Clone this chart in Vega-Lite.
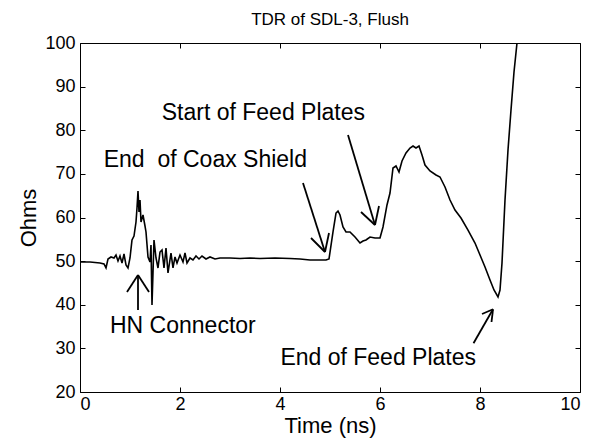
{
  "$schema": "https://vega.github.io/schema/vega-lite/v6.json",
  "width": 500,
  "height": 349,
  "autosize": {"type": "none"},
  "padding": {"left": 80, "top": 43, "right": 11, "bottom": 54},
  "background": "white",
  "title": {"text": "TDR of SDL-3, Flush", "fontSize": 17, "font": "Liberation Sans", "fontWeight": "normal", "color": "black", "offset": 5},
  "config": {
    "view": {"stroke": "black", "strokeWidth": 1},
    "axis": {"labelFont": "Liberation Sans", "titleFont": "Liberation Sans", "labelColor": "black", "titleColor": "black", "domain": false, "grid": false, "tickColor": "black", "tickWidth": 1, "titleFontWeight": "normal"}
  },
  "datasets": {
    "tdr": [
      {"t": 0, "ohm": 49.8}, {"t": 0.2, "ohm": 49.8}, {"t": 0.4, "ohm": 49.57}, {"t": 0.48, "ohm": 49.34},
      {"t": 0.52, "ohm": 48.43}, {"t": 0.56, "ohm": 50.49}, {"t": 0.62, "ohm": 50.95}, {"t": 0.68, "ohm": 50.72},
      {"t": 0.72, "ohm": 51.4}, {"t": 0.76, "ohm": 50.03}, {"t": 0.8, "ohm": 51.17}, {"t": 0.84, "ohm": 49.57},
      {"t": 0.88, "ohm": 51.63}, {"t": 0.92, "ohm": 49.11}, {"t": 0.96, "ohm": 48.43}, {"t": 1.0, "ohm": 50.72},
      {"t": 1.04, "ohm": 54.84}, {"t": 1.08, "ohm": 55.76}, {"t": 1.12, "ohm": 58.97}, {"t": 1.14, "ohm": 62.18},
      {"t": 1.16, "ohm": 66.07}, {"t": 1.18, "ohm": 61.26}, {"t": 1.2, "ohm": 64.01}, {"t": 1.22, "ohm": 58.97},
      {"t": 1.26, "ohm": 60.57}, {"t": 1.3, "ohm": 58.05}, {"t": 1.32, "ohm": 56.68}, {"t": 1.36, "ohm": 50.95},
      {"t": 1.4, "ohm": 49.8}, {"t": 1.42, "ohm": 53.7}, {"t": 1.44, "ohm": 39.94}, {"t": 1.48, "ohm": 54.84},
      {"t": 1.52, "ohm": 50.72}, {"t": 1.56, "ohm": 48.43}, {"t": 1.6, "ohm": 52.09}, {"t": 1.64, "ohm": 52.55},
      {"t": 1.68, "ohm": 48.43}, {"t": 1.72, "ohm": 53.01}, {"t": 1.76, "ohm": 47.28}, {"t": 1.82, "ohm": 51.86},
      {"t": 1.86, "ohm": 48.43}, {"t": 1.9, "ohm": 50.95}, {"t": 1.94, "ohm": 49.57}, {"t": 2.0, "ohm": 51.4},
      {"t": 2.06, "ohm": 49.8}, {"t": 2.1, "ohm": 51.86}, {"t": 2.14, "ohm": 49.57}, {"t": 2.2, "ohm": 50.72},
      {"t": 2.26, "ohm": 50.26}, {"t": 2.32, "ohm": 51.17}, {"t": 2.38, "ohm": 50.49}, {"t": 2.44, "ohm": 51.17},
      {"t": 2.52, "ohm": 50.49}, {"t": 2.6, "ohm": 50.95}, {"t": 2.7, "ohm": 50.49}, {"t": 2.8, "ohm": 50.72},
      {"t": 3.0, "ohm": 50.72}, {"t": 3.2, "ohm": 50.6}, {"t": 3.4, "ohm": 50.72}, {"t": 3.6, "ohm": 50.6},
      {"t": 3.9, "ohm": 50.72}, {"t": 4.2, "ohm": 50.6}, {"t": 4.4, "ohm": 50.49}, {"t": 4.6, "ohm": 50.26},
      {"t": 4.8, "ohm": 50.26}, {"t": 4.92, "ohm": 50.26}, {"t": 4.98, "ohm": 50.49}, {"t": 5.06, "ohm": 56.68},
      {"t": 5.12, "ohm": 61.03}, {"t": 5.16, "ohm": 61.49}, {"t": 5.2, "ohm": 60.57}, {"t": 5.26, "ohm": 57.82},
      {"t": 5.32, "ohm": 56.68}, {"t": 5.4, "ohm": 56.68}, {"t": 5.5, "ohm": 55.53}, {"t": 5.6, "ohm": 54.15},
      {"t": 5.66, "ohm": 54.61}, {"t": 5.72, "ohm": 54.84}, {"t": 5.8, "ohm": 55.53}, {"t": 5.9, "ohm": 55.3},
      {"t": 6.0, "ohm": 55.3}, {"t": 6.06, "ohm": 57.82}, {"t": 6.14, "ohm": 62.87}, {"t": 6.2, "ohm": 65.62},
      {"t": 6.26, "ohm": 71.35}, {"t": 6.32, "ohm": 71.81}, {"t": 6.38, "ohm": 70.43}, {"t": 6.44, "ohm": 72.95},
      {"t": 6.52, "ohm": 74.79}, {"t": 6.6, "ohm": 75.93}, {"t": 6.66, "ohm": 76.39}, {"t": 6.72, "ohm": 75.93},
      {"t": 6.78, "ohm": 76.39}, {"t": 6.84, "ohm": 74.33}, {"t": 6.9, "ohm": 72.03}, {"t": 7.0, "ohm": 70.66},
      {"t": 7.12, "ohm": 69.74}, {"t": 7.2, "ohm": 69.28}, {"t": 7.3, "ohm": 66.99}, {"t": 7.4, "ohm": 64.01},
      {"t": 7.5, "ohm": 61.72}, {"t": 7.62, "ohm": 59.89}, {"t": 7.76, "ohm": 57.13}, {"t": 7.9, "ohm": 54.15},
      {"t": 8.0, "ohm": 51.4}, {"t": 8.1, "ohm": 48.65}, {"t": 8.2, "ohm": 45.67}, {"t": 8.28, "ohm": 43.38},
      {"t": 8.36, "ohm": 41.78}, {"t": 8.4, "ohm": 43.38}, {"t": 8.44, "ohm": 49.57}, {"t": 8.5, "ohm": 64.01},
      {"t": 8.56, "ohm": 75.47}, {"t": 8.62, "ohm": 84.64}, {"t": 8.68, "ohm": 93.35}, {"t": 8.74, "ohm": 100},
      {"t": 8.78, "ohm": 106}
    ],
    "arrows": [
      {"x1": 4.46, "y1": 67.91, "x2": 4.9, "y2": 52.09},
      {"x1": 4.62, "y1": 55.3, "x2": 4.9, "y2": 52.09},
      {"x1": 4.98, "y1": 56.45, "x2": 4.9, "y2": 52.09},
      {"x1": 5.36, "y1": 78.91, "x2": 5.9, "y2": 58.28},
      {"x1": 5.62, "y1": 61.26, "x2": 5.9, "y2": 58.28},
      {"x1": 5.98, "y1": 62.64, "x2": 5.9, "y2": 58.28},
      {"x1": 1.16, "y1": 38.8, "x2": 1.16, "y2": 46.82},
      {"x1": 0.94, "y1": 42.92, "x2": 1.16, "y2": 46.82},
      {"x1": 1.38, "y1": 42.92, "x2": 1.16, "y2": 46.82},
      {"x1": 7.87, "y1": 31.16, "x2": 8.26, "y2": 38.96},
      {"x1": 8.04, "y1": 37.88, "x2": 8.26, "y2": 38.96},
      {"x1": 8.23, "y1": 36.05, "x2": 8.26, "y2": 38.96}
    ],
    "labels": [
      {"x": 4.54, "y": 71.58, "label": "End\u00a0 of Coax Shield", "side": "right"},
      {"x": 5.7, "y": 82.35, "label": "Start of Feed Plates", "side": "right"},
      {"x": 0.6, "y": 33.41, "label": "HN Connector", "side": "left"},
      {"x": 7.92, "y": 26.3, "label": "End of Feed Plates", "side": "right"}
    ]
  },
  "layer": [
    {
      "data": {"name": "tdr"},
      "mark": {"type": "line", "color": "black", "strokeWidth": 1.6, "clip": true},
      "encoding": {
        "x": {"field": "t", "type": "quantitative", "scale": {"domain": [0, 10], "nice": false},
              "axis": {"values": [0, 2, 4, 6, 8, 10], "title": "Time (ns)", "titleFontSize": 22, "labelFontSize": 18, "tickSize": -5, "labelPadding": 8, "titlePadding": 2}},
        "y": {"field": "ohm", "type": "quantitative", "scale": {"domain": [20, 100], "nice": false, "zero": false},
              "axis": {"values": [20, 30, 40, 50, 60, 70, 80, 90, 100], "title": "Ohms", "titleFontSize": 22, "labelFontSize": 18, "tickSize": -5, "labelPadding": 10, "titlePadding": 4}}
      }
    },
    {
      "data": {"name": "arrows"},
      "mark": {"type": "rule", "color": "black", "strokeWidth": 1.8},
      "encoding": {
        "x": {"field": "x1", "type": "quantitative", "axis": {"values": [0, 2, 4, 6, 8, 10], "labels": false, "title": null, "tickSize": -5}},
        "y": {"field": "y1", "type": "quantitative", "axis": {"values": [20, 30, 40, 50, 60, 70, 80, 90, 100], "labels": false, "title": null, "tickSize": -5}},
        "x2": {"field": "x2"},
        "y2": {"field": "y2"}
      }
    },
    {
      "data": {"name": "labels"},
      "transform": [{"filter": "datum.side == 'right'"}],
      "mark": {"type": "text", "align": "right", "baseline": "alphabetic", "font": "Liberation Sans", "fontSize": 23, "color": "black"},
      "encoding": {
        "x": {"field": "x", "type": "quantitative", "axis": null},
        "y": {"field": "y", "type": "quantitative", "axis": null},
        "text": {"field": "label"}
      }
    },
    {
      "data": {"name": "labels"},
      "transform": [{"filter": "datum.side == 'left'"}],
      "mark": {"type": "text", "align": "left", "baseline": "alphabetic", "font": "Liberation Sans", "fontSize": 23, "color": "black"},
      "encoding": {
        "x": {"field": "x", "type": "quantitative", "axis": null},
        "y": {"field": "y", "type": "quantitative", "axis": null},
        "text": {"field": "label"}
      }
    }
  ],
  "resolve": {"axis": {"x": "independent", "y": "independent"}}
}
